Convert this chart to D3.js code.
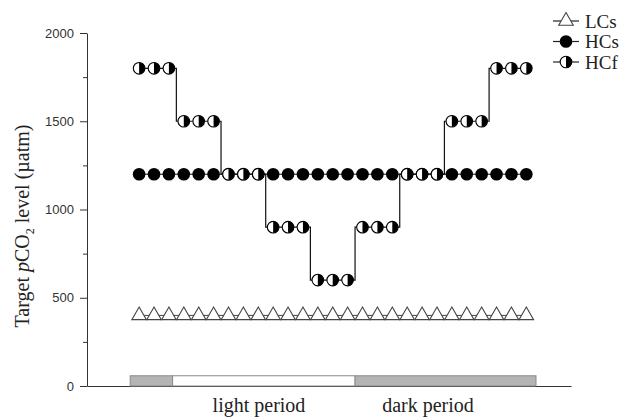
<!DOCTYPE html>
<html>
<head>
<meta charset="utf-8">
<script src="https://cdn.jsdelivr.net/npm/d3@7"></script>
<style>
  body { margin: 0; background: #fff; }
  svg { display: block; }
  .tick text { font-family: "Liberation Sans", Arial, sans-serif; font-size: 13px; fill: #333; }
  .serif { font-family: "Liberation Serif", "Times New Roman", serif; fill: #222; }
</style>
</head>
<body>
<svg width="623" height="418"></svg>
<script>
// sample times (h)
const hours = [0.5, 1.5, 2.5, 3.5, 4.5, 5.5, 6.5, 7.5, 8.5, 9.5, 10.5, 11.5, 12.5, 13.5,
  14.5, 15.5, 16.5, 17.5, 18.5, 19.5, 20.5, 21.5, 22.5, 23.5, 24.5, 25.5, 26.5];

const lcs = [400, 400, 400, 400, 400, 400, 400, 400, 400, 400, 400, 400, 400, 400,
  400, 400, 400, 400, 400, 400, 400, 400, 400, 400, 400, 400, 400];
const hcs = [1200, 1200, 1200, 1200, 1200, 1200, 1200, 1200, 1200, 1200, 1200, 1200, 1200, 1200,
  1200, 1200, 1200, 1200, 1200, 1200, 1200, 1200, 1200, 1200, 1200, 1200, 1200];
const hcf = [1800, 1800, 1800, 1500, 1500, 1500, 1200, 1200, 1200, 900, 900, 900, 600, 600,
  600, 900, 900, 900, 1200, 1200, 1200, 1500, 1500, 1500, 1800, 1800, 1800];

const yTicks = [0, 500, 1000, 1500, 2000];
const yMinorTicks = [250, 750, 1250, 1750];

// light / dark bar under the series
const periodStart = [-0.1, 2.75, 15];
const periodEnd = [2.75, 15, 27.15];
const periodType = ["dark", "light", "dark"];
const periodBarValue = 58;
const periodLabels = ["light period", "dark period"];
const periodLabelAt = [8.55, 19.9];

const legendNames = ["LCs", "HCs", "HCf"];

const svg = d3.select("svg");

const x = d3.scaleLinear().domain([-3, 29.5]).range([87, 571]);
const y = d3.scaleLinear().domain([0, 2000]).range([386, 33]);

// axes
svg.append("g")
  .attr("transform", "translate(0,386)")
  .call(d3.axisBottom(x).tickValues([]).tickSizeOuter(0))
  .call(g => g.select(".domain").attr("stroke", "#333"));

svg.append("g")
  .attr("transform", "translate(87,0)")
  .call(d3.axisLeft(y).tickValues(yMinorTicks).tickSize(4).tickFormat(""))
  .call(g => g.select(".domain").remove())
  .call(g => g.selectAll("line").attr("stroke", "#333"));

svg.append("g")
  .attr("transform", "translate(87,0)")
  .call(d3.axisLeft(y).tickValues(yTicks).tickFormat(d3.format("d"))
    .tickSize(7).tickPadding(6).tickSizeOuter(0))
  .call(g => g.select(".domain").attr("stroke", "#333"))
  .call(g => g.selectAll("line").attr("stroke", "#333"));

// y label
const yl = svg.append("text")
  .attr("class", "serif")
  .attr("transform", "translate(29,226) rotate(-90)")
  .attr("text-anchor", "middle")
  .style("font-size", "20px");
yl.append("tspan").text("Target ");
yl.append("tspan").style("font-style", "italic").text("p");
yl.append("tspan").text("CO");
yl.append("tspan").attr("dy", 5).style("font-size", "12px").text("2");
yl.append("tspan").attr("dy", -5).text(" level (\u00b5atm)");

// period bar
svg.append("g").selectAll("rect")
  .data(periodStart)
  .join("rect")
  .attr("x", (d, i) => x(d))
  .attr("width", (d, i) => x(periodEnd[i]) - x(d))
  .attr("y", y(periodBarValue))
  .attr("height", y(0) - y(periodBarValue))
  .attr("fill", (d, i) => periodType[i] === "dark" ? "#b4b4b4" : "#fff")
  .attr("stroke", "#8a8a8a")
  .attr("stroke-width", 1);

svg.append("g").selectAll("text")
  .data(periodLabels)
  .join("text")
  .attr("class", "serif")
  .attr("x", (d, i) => x(periodLabelAt[i]))
  .attr("y", 412)
  .attr("text-anchor", "middle")
  .style("font-size", "20px")
  .text(d => d);

// lines
const straight = d3.line().x((d, i) => x(hours[i])).y(d => y(d));
const stepped = d3.line().x((d, i) => x(hours[i])).y(d => y(d)).curve(d3.curveStep);

svg.append("path").datum(lcs).attr("d", straight)
  .attr("fill", "none").attr("stroke", "#444").attr("stroke-width", 1);
svg.append("path").datum(hcs).attr("d", straight)
  .attr("fill", "none").attr("stroke", "#111").attr("stroke-width", 1);
svg.append("path").datum(hcf).attr("d", stepped)
  .attr("fill", "none").attr("stroke", "#111").attr("stroke-width", 1.2);

// markers
const tri = d3.symbol(d3.symbolTriangle, 92);
const r = 6.3;

function drawTri(sel) {
  sel.append("path").attr("d", tri)
    .attr("fill", "#fff").attr("stroke", "#444").attr("stroke-width", 1.1);
}
function drawDot(sel) {
  sel.append("circle").attr("r", r).attr("fill", "#000");
}
function drawHalf(sel) {
  sel.append("circle").attr("r", r - 0.5)
    .attr("fill", "#fff").attr("stroke", "#000").attr("stroke-width", 1.1);
  sel.append("path")
    .attr("d", `M0,${-(r - 0.5)}A${r - 0.5},${r - 0.5} 0 0 1 0,${r - 0.5}Z`)
    .attr("fill", "#000");
}

svg.append("g").selectAll("g")
  .data(lcs).join("g")
  .attr("transform", (d, i) => `translate(${x(hours[i])},${y(d)})`)
  .call(drawTri);

svg.append("g").selectAll("g")
  .data(hcs).join("g")
  .attr("transform", (d, i) => `translate(${x(hours[i])},${y(d)})`)
  .call(drawDot);

svg.append("g").selectAll("g")
  .data(hcf).join("g")
  .attr("transform", (d, i) => `translate(${x(hours[i])},${y(d)})`)
  .call(drawHalf);

// legend
const legendDraw = [drawTri, drawDot, drawHalf];
const lg = svg.append("g").selectAll("g")
  .data(legendNames).join("g")
  .attr("transform", (d, i) => `translate(553,${21 + i * 20.5})`);
lg.append("line").attr("x1", 0).attr("x2", 26)
  .attr("stroke", "#222").attr("stroke-width", 1.2);
lg.each(function(d, i) {
  d3.select(this).append("g").attr("transform", "translate(13,0)").call(legendDraw[i]);
});
lg.append("text")
  .attr("class", "serif")
  .attr("x", 32)
  .attr("dy", "0.35em")
  .style("font-size", "19px")
  .text(d => d);
</script>
</body>
</html>
